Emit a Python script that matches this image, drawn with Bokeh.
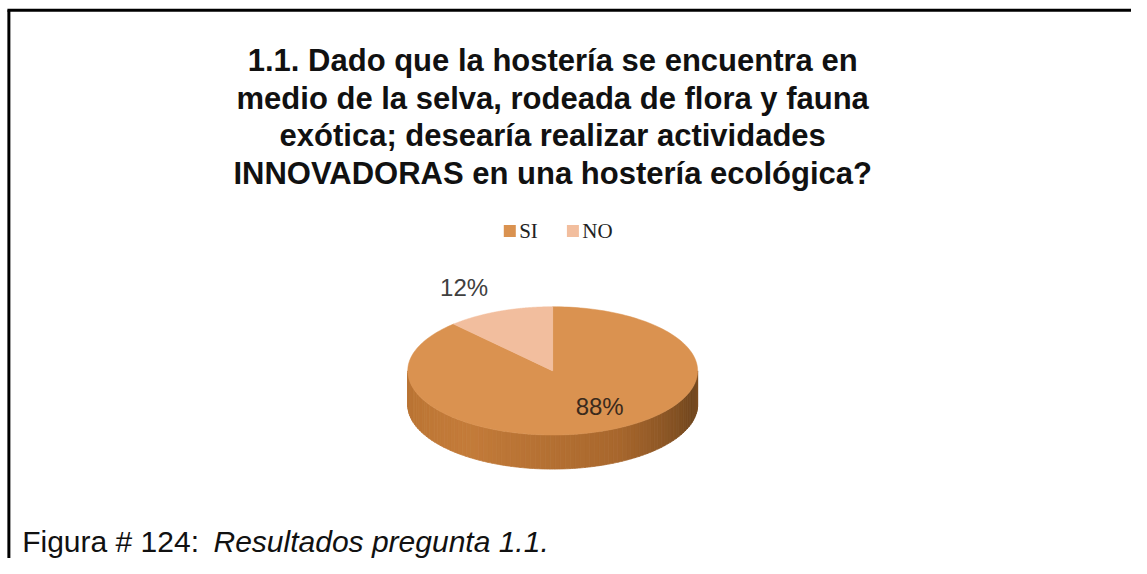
import numpy as np
from bokeh.plotting import figure
from bokeh.models import Range1d
from bokeh.core.properties import value
from bokeh.embed import file_html
from bokeh.resources import INLINE

# ---- data ----
categories = ["SI", "NO"]
percentages = [88, 12]
slice_colors = ["#DA9250", "#F2BE9E"]
title_lines = [
    "1.1. Dado que la hostería se encuentra en",
    "medio de la selva, rodeada de flora y fauna",
    "exótica; desearía realizar actividades",
    "INNOVADORAS en una hostería ecológica?",
]
caption_plain = "Figura # 124: "
caption_italic = "Resultados pregunta 1.1."

# figure fits the window; data space spans the reference's 1147 x 574 canvas
W, H = 1131, 558
RW, RH = 1147, 574
p = figure(width=W, height=H, output_backend="svg", toolbar_location=None,
           x_range=Range1d(0, RW), y_range=Range1d(RH, 0), min_border=0)
p.axis.visible = False
p.grid.visible = False
p.outline_line_color = None
p.background_fill_color = "white"
p.border_fill_color = "white"

# frame lines (top and left)
p.line([7, RW], [10, 10], line_color="black", line_width=3)
p.line([8.5, 8.5], [10, RH], line_color="black", line_width=3)

# title
for i, t in enumerate(title_lines):
    p.text([560], [62 + i * 38.5], text=[t], text_align="center", text_baseline="alphabetic",
           text_font=value("Liberation Sans"), text_font_style="bold",
           text_font_size="31px", text_color="#111111")

# legend
leg_x = [510, 574]
for i, c in enumerate(categories):
    p.scatter([leg_x[i] + 6.5], [237], marker="square", size=12,
              fill_color=slice_colors[i], line_color=None)
    p.text([leg_x[i] + 16], [237], text=[c], text_align="left", text_baseline="middle",
           text_font=value("Liberation Serif"), text_font_size="21px", text_color="#222222")

# 3D pie geometry
cx, cy, rx, ry, depth = 560, 381, 147, 66, 35
fracs = np.array(percentages, dtype=float) / sum(percentages)
starts = 90 - np.concatenate([[0], np.cumsum(fracs)[:-1]]) * 360
ends = starts - fracs * 360


def side_color(theta):
    # theta in degrees, 180 (left) .. 360 (right)
    t = (theta - 180) / 180.0
    stops = [(0.0, (184, 114, 50)), (0.3, (196, 124, 58)), (0.65, (168, 103, 45)),
             (0.92, (112, 70, 30)), (1.0, (125, 78, 34))]
    for (t0, c0), (t1, c1) in zip(stops[:-1], stops[1:]):
        if t <= t1:
            u = (t - t0) / (t1 - t0)
            return "#%02x%02x%02x" % tuple(int(a + (b - a) * u) for a, b in zip(c0, c1))
    return "#%02x%02x%02x" % stops[-1][1]


# side walls (front half only: angles between 180 and 360)
for i in range(len(categories)):
    lo, hi = ends[i], starts[i]
    for shift in (-720, -360, 0, 360):
        s_lo, s_hi = max(lo + shift, 180), min(hi + shift, 360)
        if s_hi > s_lo:
            n = int((s_hi - s_lo) / 2) + 1
            edges = np.linspace(s_lo, s_hi, n + 1)
            for e0, e1 in zip(edges[:-1], edges[1:]):
                th = np.radians(np.linspace(e0, e1, 4))
                xs = cx + rx * np.cos(th)
                ys = cy - ry * np.sin(th)
                px = np.concatenate([xs, xs[::-1]])
                py = np.concatenate([ys, ys[::-1] + depth])
                col = side_color((e0 + e1) / 2)
                p.patch(px, py, fill_color=col, line_color=col, line_width=0.8)

# top faces
for i in range(len(categories)):
    th = np.radians(np.linspace(starts[i], ends[i], 200))
    xs = np.concatenate([[cx], cx + rx * np.cos(th)])
    ys = np.concatenate([[cy], cy - ry * np.sin(th)])
    p.patch(xs, ys, fill_color=slice_colors[i], line_color=slice_colors[i], line_width=0.5)

# data labels (position factors relative to the slice mid-angle)
label_f = [(0.88, 0.60), (1.66, 1.40)]
label_colors = ["#3b2a1c", "#404040"]
for i in range(len(categories)):
    mid = np.radians((starts[i] + ends[i]) / 2)
    lxp = cx + rx * label_f[i][0] * np.cos(mid)
    lyp = cy - ry * label_f[i][1] * np.sin(mid)
    p.text([lxp], [lyp], text=["%d%%" % percentages[i]], text_align="center",
           text_baseline="middle", text_font=value("Liberation Sans"),
           text_font_size="24px", text_color=label_colors[i])

# caption
p.text([22], [557], text=[caption_plain], text_align="left", text_baseline="alphabetic",
       text_font=value("Liberation Sans"), text_font_size="30px", text_color="#111111")
p.text([216], [557], text=[caption_italic], text_align="left", text_baseline="alphabetic",
       text_font=value("Liberation Sans"), text_font_style="italic",
       text_font_size="30px", text_color="#111111")

open("out.html", "w").write(file_html(p, INLINE))
